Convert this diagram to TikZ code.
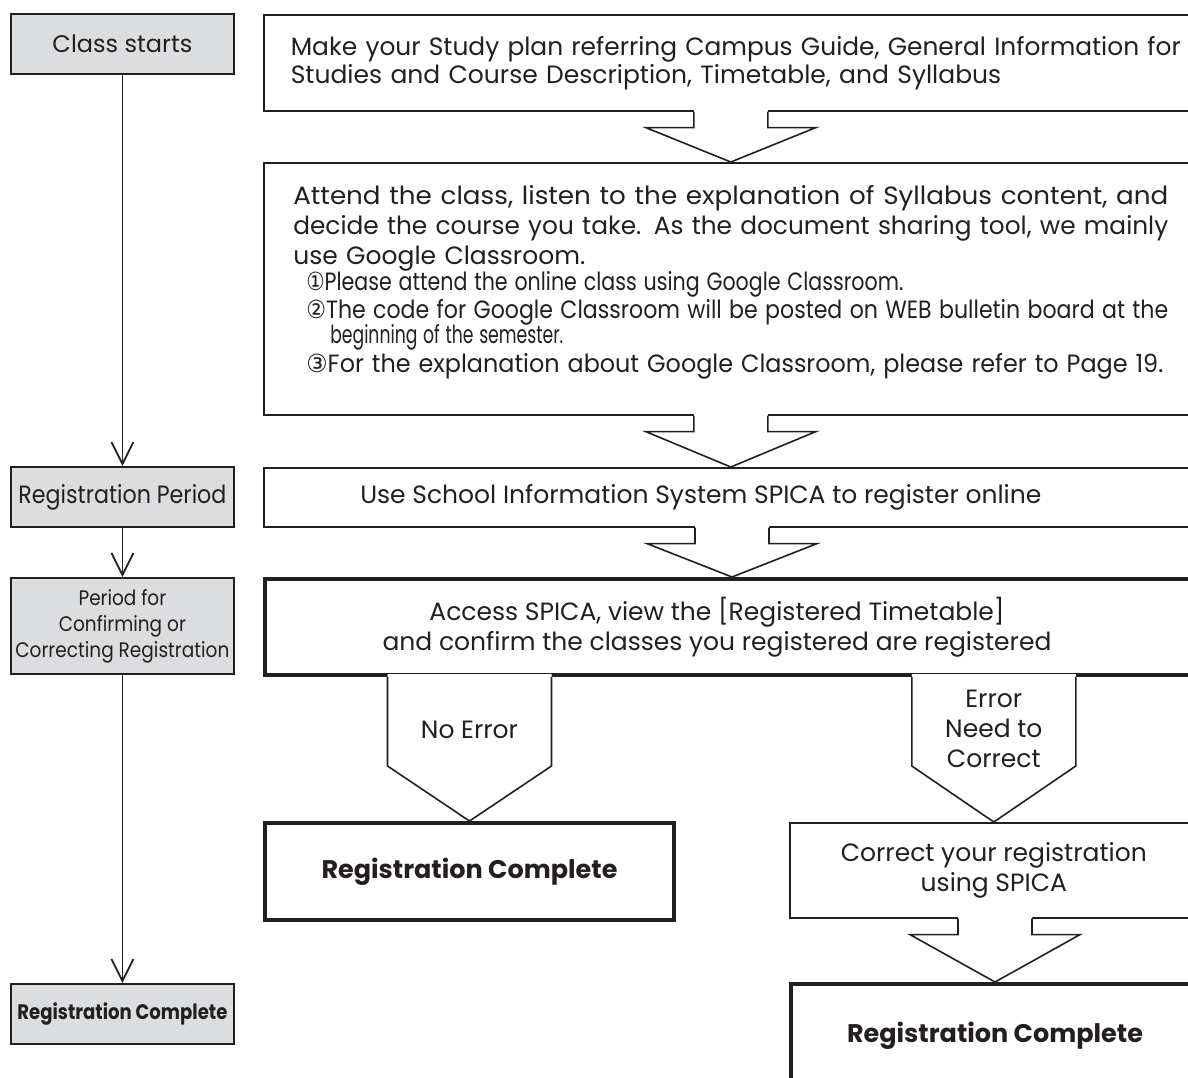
\documentclass[tikz,border=0pt]{standalone}
\usepackage{fontspec}
\usepackage{graphicx}
\setmainfont{Poppins}
\newfontfamily\circfont{DejaVu Sans}
\usetikzlibrary{arrows.meta,calc,positioning}

\definecolor{inkgray}{RGB}{35,31,32}
\definecolor{stagegray}{RGB}{220,221,223}

\newcommand{\fitline}[2]{\resizebox{#1}{\height}{#2}}

\tikzset{
  bodytext/.style={font=\fontsize{25}{30}\selectfont, text=inkgray},
  stagebox/.style={draw=inkgray, fill=stagegray, line width=1.8pt, minimum width=223pt,
    minimum height=60pt, align=center, inner sep=0pt, bodytext},
  stepbox/.style={draw=inkgray, fill=white, line width=1.6pt, minimum width=934pt,
    align=center, inner sep=0pt, bodytext},
  keybox/.style={stepbox, line width=4pt},
  flowline/.style={draw=inkgray, line width=1.8pt, ->},
  arrowline/.style={draw=inkgray, line width=1.6pt, line join=miter},
}

% hollow arrow from the bottom of one box to the top of the next
\newcommand{\hollowarrow}[2]{%
  \coordinate (top) at (#1.south -| #2.north);
  \fill[white] ($(top)+(-37,-3)$) -- ($(top)+(-37,16)$) -- ($(top)+(-85,16)$)
    -- (#2.north) -- ($(top)+(85,16)$) -- ($(top)+(37,16)$) -- ($(top)+(37,-3)$) -- cycle;
  \draw[arrowline] ($(top)+(-37,0)$) -- ($(top)+(-37,16)$) -- ($(top)+(-85,16)$)
    -- (#2.north) -- ($(top)+(85,16)$) -- ($(top)+(37,16)$) -- ($(top)+(37,0)$);
}
% wide pentagon arrow for the two cases
\newcommand{\casearrow}[2]{%
  \coordinate (top) at (#1.south -| #2.north);
  \fill[white] ($(top)+(-82,-3)$) -- ($(top)+(-82,89)$) -- (#2.north)
    -- ($(top)+(82,89)$) -- ($(top)+(82,-3)$) -- cycle;
  \draw[arrowline] ($(top)+(-82,0)$) -- ($(top)+(-82,89)$) -- (#2.north)
    -- ($(top)+(82,89)$) -- ($(top)+(82,0)$);
}

\begin{document}
\begin{tikzpicture}[x=1pt,y=-1pt,>={Straight Barb[length=22pt,width=22pt]}]
  \useasboundingbox (0,0) rectangle (1188,1077);
  \clip (0,0) rectangle (1188,1077);

  % Period column
  \node[stagebox, anchor=north west, font=\fontsize{24}{30}\selectfont] (classstart) at (10,13)
    {Class starts};
  \node[stagebox, anchor=north west] (regperiod) at (10,466)
    {\fitline{208pt}{Registration Period}};
  \node[stagebox, anchor=north west, minimum height=96pt,
    font=\fontsize{21}{26}\selectfont] (confirmperiod) at (10,577)
    {\scalebox{0.88}[1]{Period for}\\\scalebox{0.88}[1]{Confirming or}\\
     \fitline{214pt}{Correcting Registration}};
  \node[stagebox, anchor=north west, font=\fontsize{21}{26}\selectfont] (leftdone) at (10,983)
    {\fitline{210pt}{\bfseries Registration Complete}};

  \draw[flowline] (classstart) -- (regperiod);
  \draw[flowline] (regperiod) -- (confirmperiod);
  \draw[flowline] (confirmperiod) -- (leftdone);

  % Steps
  \node[stepbox, anchor=north west, minimum height=96pt, text width=880pt, align=left]
    (studyplan) at (263,14)
    {\fitline{890pt}{Make your Study plan referring Campus Guide, General Information for}\\[-2pt]
     Studies and Course Description, Timetable, and Syllabus};
  \node[stepbox, anchor=north west, minimum height=252pt, text width=875pt, align=left]
    (attend) at (263,162)
    {\fitline{875pt}{Attend the class, listen to the explanation of Syllabus content, and}\\
     \fitline{875pt}{decide the course you take. As the document sharing tool, we mainly}\\
     use Google Classroom.\\[-4pt]
     \hspace*{13pt}\fitline{597pt}{{\circfont ①}Please attend the online class using Google Classroom.}\\[-2pt]
     \hspace*{13pt}\fitline{862pt}{{\circfont ②}The code for Google Classroom will be posted on WEB bulletin board at the}\\[-5pt]
     \hspace*{37pt}\fitline{233pt}{beginning of the semester.}\\[-1pt]
     \hspace*{13pt}\fitline{857pt}{{\circfont ③}For the explanation about Google Classroom, please refer to Page 19.}
     \par\vspace*{12pt}};
  \node[stepbox, anchor=north west, minimum height=59pt] (register) at (263,467)
    {Use School Information System SPICA to register online\hspace*{60pt}};
  \node[keybox, anchor=north west, minimum height=96pt] (access) at (263,577)
    {\hspace*{-30pt}Access SPICA, view the [Registered Timetable]\\
     \hspace*{-30pt}and confirm the classes you registered are registered};

  \hollowarrow{studyplan}{attend}
  \hollowarrow{attend}{register}
  \hollowarrow{register}{access}

  % Outcomes
  \node[keybox, anchor=north west, minimum width=409pt, minimum height=97pt,
    font=\fontsize{25.5}{30}\selectfont] (regdone)
    at (263,821) {\bfseries Registration Complete};
  \node[stepbox, anchor=north west, minimum width=408pt, minimum height=95pt] (correct)
    at (789,822) {Correct your registration\\using SPICA};
  \node[keybox, anchor=north west, minimum width=408pt, minimum height=104pt,
    font=\fontsize{25.5}{30}\selectfont] (finaldone)
    at (789,982) {\bfseries Registration Complete};

  \casearrow{access}{regdone}
  \casearrow{access}{correct}
  \hollowarrow{correct}{finaldone}

  \node[bodytext] (noerror) at ($(access.south -| regdone.north)+(0,53)$) {No Error};
  \node[bodytext, align=center] (needfix) at ($(access.south -| correct.north)+(0,52)$)
    {Error\\Need to\\Correct};
\end{tikzpicture}
\end{document}
